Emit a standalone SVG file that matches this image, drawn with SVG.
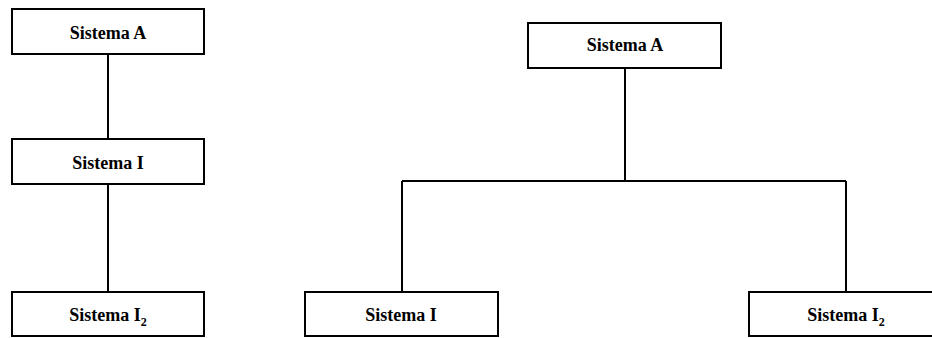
<svg xmlns="http://www.w3.org/2000/svg" width="932" height="338" viewBox="0 0 932 338">
<style>
.box{fill:#fff;stroke:#000;stroke-width:2}
.lbl{font-family:"Liberation Serif","Times New Roman",serif;font-weight:bold;font-size:18px;fill:#000;text-anchor:middle}
.sub{font-size:12px}
.conn{fill:none;stroke:#000;stroke-width:2}
</style>
<rect width="932" height="338" fill="#fff"/>
<g id="connectors">
<path class="conn" d="M108 54V139M108 184V292"/>
<path class="conn" d="M625 68V181M402 181H846M402 181V292M846 181V292"/>
</g>
<g id="left-a"><rect class="box" x="12" y="9" width="192" height="45"/><text class="lbl" x="108" y="39">Sistema A</text></g>
<g id="left-i"><rect class="box" x="12" y="139" width="192" height="45"/><text class="lbl" x="108" y="169">Sistema I</text></g>
<g id="left-i2"><rect class="box" x="12" y="292" width="192" height="44"/><text class="lbl" x="108" y="321">Sistema I<tspan class="sub" dy="5">2</tspan></text></g>
<g id="right-a"><rect class="box" x="528" y="23" width="193" height="45"/><text class="lbl" x="625" y="51">Sistema A</text></g>
<g id="right-i"><rect class="box" x="305" y="292" width="193" height="44"/><text class="lbl" x="401" y="321">Sistema I</text></g>
<g id="right-i2"><rect class="box" x="749" y="292" width="194" height="44"/><text class="lbl" x="846" y="321">Sistema I<tspan class="sub" dy="5">2</tspan></text></g>
</svg>
